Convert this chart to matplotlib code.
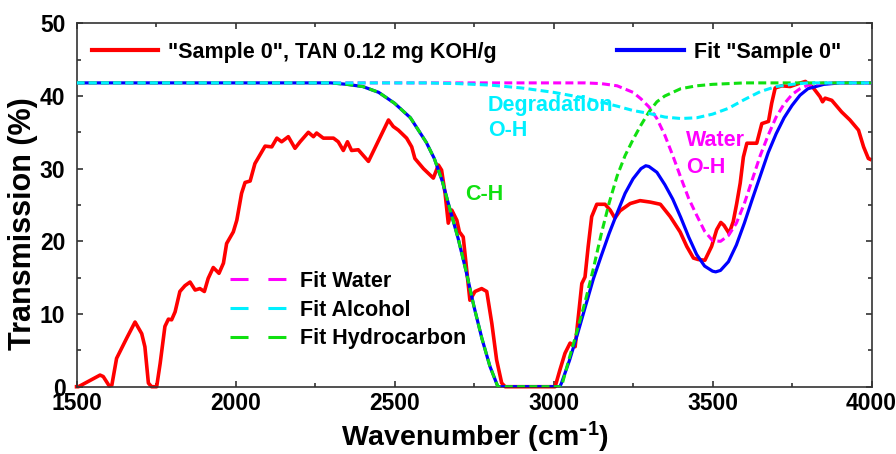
import matplotlib
matplotlib.use('Agg')
import matplotlib.pyplot as plt
from matplotlib.lines import Line2D
from matplotlib.ticker import MultipleLocator

plt.rcParams['font.family'] = ['Liberation Sans', 'DejaVu Sans']
plt.rcParams['font.weight'] = 'bold'
plt.rcParams['mathtext.default'] = 'regular'

# measured spectrum
red_wn = [1500, 1506, 1540, 1574, 1584, 1603, 1611, 1626, 1658, 1684,
          1705, 1715, 1726, 1736, 1752, 1763, 1778, 1789, 1799, 1810,
          1825, 1841, 1857, 1873, 1888, 1902, 1914, 1930, 1948, 1962,
          1972, 1993, 2004, 2019, 2030, 2046, 2061, 2077, 2093, 2114,
          2130, 2145, 2166, 2187, 2203, 2229, 2245, 2255, 2276, 2308,
          2323, 2339, 2352, 2365, 2386, 2418, 2428, 2481, 2496, 2512,
          2538, 2554, 2564, 2591, 2622, 2638, 2648, 2659, 2669, 2680,
          2696, 2704, 2716, 2727, 2737, 2753, 2774, 2790, 2806, 2821,
          2837, 2848, 3005, 3020, 3036, 3052, 3068, 3078, 3089, 3099,
          3109, 3120, 3136, 3162, 3178, 3193, 3209, 3241, 3272, 3304,
          3336, 3367, 3398, 3419, 3440, 3455, 3476, 3497, 3513, 3526,
          3536, 3552, 3565, 3576, 3587, 3597, 3608, 3639, 3655, 3676,
          3686, 3697, 3718, 3744, 3770, 3792, 3817, 3838, 3846, 3854,
          3875, 3906, 3932, 3959, 3975, 3990, 3995]
red_T = [0, 0, 0.8, 1.6, 1.4, 0.1, 0.2, 3.9, 6.7, 8.9,
         7.3, 5.5, 0.5, 0, 0, 3.2, 8.3, 9.3, 9.2, 10.3,
         13.1, 13.9, 14.4, 13.3, 13.5, 13.1, 14.9, 16.4, 15.6, 17.0,
         19.7, 21.3, 22.9, 26.6, 28.1, 28.3, 30.7, 31.9, 33.1, 33.0,
         34.2, 33.7, 34.4, 32.8, 33.7, 35.0, 34.4, 34.9, 34.2, 34.2,
         33.7, 32.5, 33.7, 32.5, 32.6, 31.0, 31.9, 36.7, 35.8, 35.3,
         34.2, 33.0, 31.4, 30.0, 28.7, 30.5, 29.8, 26.6, 22.5, 24.3,
         22.9, 21.3, 20.6, 16.1, 11.9, 13.1, 13.5, 13.1, 8.7, 3.7,
         0.5, 0, 0, 2.3, 4.6, 6.0, 5.5, 9.6, 14.2, 15.1,
         19.3, 23.4, 25.1, 25.1, 24.3, 23.2, 24.2, 25.2, 25.6, 25.4,
         25.1, 23.4, 21.3, 19.3, 17.7, 17.5, 17.4, 19.3, 21.6, 22.6,
         22.2, 21.1, 22.7, 25.2, 28.0, 31.6, 33.5, 33.5, 36.2, 36.5,
         39.0, 41.1, 41.4, 41.3, 41.7, 42.0, 41.1, 39.9, 39.2, 39.7,
         39.4, 37.8, 36.7, 35.3, 33.0, 31.4, 31.3]

# total fit
fit_wn = [1500, 2250, 2300, 2350, 2400, 2450, 2500, 2550, 2600, 2625,
          2650, 2675, 2700, 2725, 2750, 2775, 2800, 2825, 3020, 3025,
          3050, 3075, 3100, 3125, 3150, 3175, 3200, 3225, 3250, 3275,
          3290, 3300, 3325, 3350, 3375, 3400, 3425, 3450, 3475, 3500,
          3510, 3525, 3550, 3575, 3600, 3625, 3650, 3675, 3700, 3725,
          3750, 3775, 3800, 3850, 3900, 4000]
fit_T = [41.8, 41.8, 41.8, 41.6, 41.3, 40.5, 39.0, 37.0, 33.6, 31.4,
         28.3, 24.3, 20.4, 15.9, 11.0, 6.6, 2.8, 0, 0, 0.5,
         3.6, 7.2, 11.0, 14.8, 18.0, 21.1, 23.9, 26.6, 28.6, 30.0,
         30.4, 30.3, 29.5, 27.8, 25.8, 23.3, 20.6, 18.2, 16.6, 15.9,
         15.8, 16.0, 17.2, 19.5, 22.5, 25.8, 29.0, 32.2, 34.8, 37.0,
         38.7, 40.1, 41.0, 41.6, 41.8, 41.8]

# component fits
water_wn = [1500, 3100, 3150, 3200, 3250, 3275, 3300, 3325, 3350, 3375,
            3400, 3425, 3450, 3475, 3500, 3525, 3550, 3575, 3600, 3625,
            3650, 3675, 3700, 3725, 3750, 3775, 3800, 3850, 4000]
water_T = [41.8, 41.8, 41.7, 41.4, 40.5, 39.6, 38.5, 36.9, 34.6, 31.8,
           28.8, 25.9, 23.6, 21.4, 20.1, 20.0, 20.8, 22.5, 25.2, 28.5,
           31.8, 34.6, 37.1, 38.9, 40.2, 41.0, 41.5, 41.8, 41.8]

alcohol_wn = [1500, 2600, 2700, 2800, 2900, 3000, 3100, 3200, 3250, 3300,
              3350, 3400, 3450, 3500, 3550, 3600, 3650, 3700, 3750, 3800, 4000]
alcohol_T = [41.8, 41.8, 41.7, 41.5, 41.1, 40.5, 39.7, 38.6, 38.0, 37.6,
             37.1, 36.9, 37.0, 37.5, 38.3, 39.5, 40.6, 41.3, 41.6, 41.8, 41.8]

hc_wn = [1500, 2250, 2300, 2350, 2400, 2450, 2500, 2550, 2600, 2625,
         2650, 2675, 2700, 2725, 2750, 2775, 2800, 2825, 3025, 3050,
         3075, 3100, 3125, 3150, 3175, 3200, 3225, 3250, 3275, 3300,
         3325, 3350, 3400, 3450, 3500, 3600, 4000]
hc_T = [41.8, 41.8, 41.8, 41.6, 41.3, 40.5, 39.0, 37.0, 33.6, 31.4,
        28.3, 24.3, 20.4, 15.9, 11.0, 6.6, 2.8, 0, 0, 4.0,
        7.8, 11.8, 16.2, 21.0, 25.3, 29.0, 31.8, 34.0, 36.0, 37.8,
        39.2, 40.0, 41.0, 41.4, 41.6, 41.8, 41.8]

RED = '#ff0000'
BLUE = '#0000ff'
MAG = '#ff00ff'
CYAN = '#00f0ff'
GREEN = '#10e010'
DASH = (2.6, 1.4)
FS = 15.5

fig = plt.figure(figsize=(8.96, 4.54), dpi=100)
ax = fig.add_axes([0.0854, 0.1482, 0.8873, 0.8005])

ax.plot(red_wn, red_T, color=RED, lw=2.6, zorder=2, clip_on=False)
ax.plot(fit_wn, fit_T, color=BLUE, lw=2.3, zorder=3)
ax.plot(water_wn, water_T, color=MAG, lw=2.2, dashes=DASH, zorder=4)
ax.plot(hc_wn, hc_T, color=GREEN, lw=2.2, dashes=DASH, zorder=5)
ax.plot(alcohol_wn, alcohol_T, color=CYAN, lw=2.2, dashes=DASH, zorder=6)

ax.set_xlim(1500, 4000)
ax.set_ylim(0, 50)
ax.xaxis.set_major_locator(MultipleLocator(500))
ax.xaxis.set_minor_locator(MultipleLocator(250))
ax.yaxis.set_major_locator(MultipleLocator(10))
ax.yaxis.set_minor_locator(MultipleLocator(5))
ax.tick_params(which='both', direction='in', top=True, right=True, width=1.1,
               labelsize=16.5, color='#222222')
ax.tick_params(which='major', length=4.5)
ax.tick_params(which='minor', length=2.6)
ax.tick_params(axis='x', pad=4)
ax.tick_params(axis='y', pad=8)
for s in ax.spines.values():
    s.set_linewidth(1.2)
    s.set_color('#333333')

ax.set_xlabel('Wavenumber (cm$^{\\text{-}1}$)', fontsize=20.5, fontweight='bold')
ax.set_ylabel('Transmission (%)', fontsize=22, fontweight='bold')
ax.xaxis.set_label_coords(0.501, -0.092)
ax.yaxis.set_label_coords(-0.049, 0.449)

# band labels
ax.text(2794, 38.75, 'Degradation', color=CYAN, fontsize=FS, va='center')
ax.text(2794, 35.2, 'O-H', color=CYAN, fontsize=FS, va='center')
ax.text(3417, 33.9, 'Water', color=MAG, fontsize=FS, va='center')
ax.text(3417, 30.1, 'O-H', color=MAG, fontsize=FS, va='center')
ax.text(2722, 26.5, 'C-H', color=GREEN, fontsize=FS, va='center')

top_handles = [Line2D([], [], color=RED, lw=3),
               Line2D([], [], color=BLUE, lw=3)]
leg1 = ax.legend(top_handles, ['"Sample 0", TAN 0.12 mg KOH/g', 'Fit "Sample 0"'],
                 ncol=2, loc='center left', bbox_to_anchor=(0.0195, 0.92),
                 frameon=False, fontsize=FS, handlelength=3.07,
                 handletextpad=0.47, columnspacing=5.6, borderpad=0,
                 borderaxespad=0)
ax.add_artist(leg1)

fit_handles = [Line2D([], [], color=c, lw=2.2, dashes=(5.9, 6.5))
               for c in (MAG, CYAN, GREEN)]
ax.legend(fit_handles, ['Fit Water', 'Fit Alcohol', 'Fit Hydrocarbon'],
          loc='center left', bbox_to_anchor=(0.193, 0.211), frameon=False,
          fontsize=FS, handlelength=2.65, handletextpad=0.6,
          labelspacing=0.36, borderpad=0, borderaxespad=0)

plt.savefig('out.png', dpi=100)
